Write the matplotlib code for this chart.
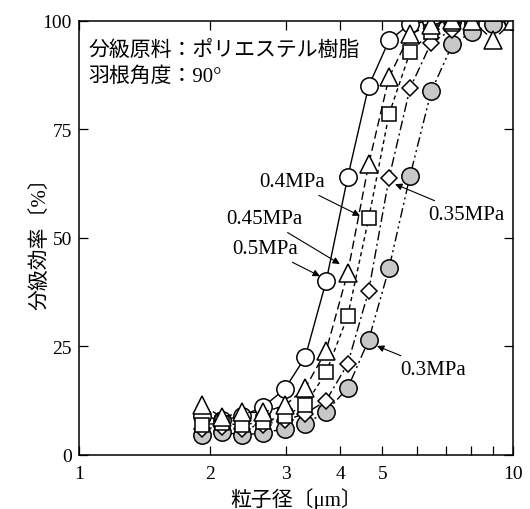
import numpy as np
import matplotlib
matplotlib.use('Agg')
import matplotlib.pyplot as plt

plt.rcParams['font.family'] = ['Liberation Serif', 'Noto Sans CJK JP']

# particle size grid [um]
size = [1.92, 2.14, 2.37, 2.65, 2.98, 3.32, 3.71, 4.16, 4.65, 5.18, 5.79, 6.48, 7.25, 8.05, 9.0, 10.0]

# classification efficiency [%] per pressure
eff_05 = [9, 8, 9, 11, 15.2, 22.5, 40, 64, 85, 95.5, 99.3, 100, 100, None, None, 100]
eff_045 = [11.4, 8.7, 9.8, 9.8, 11.4, 15.4, 24, 42, 67, 87, 97, 99, 100.3, 100, 95.6, 100]
eff_04 = [7.0, 7.3, 6.9, 7.6, 9.0, 11.5, 19, 32, 54.5, 78.5, 92.8, 97.4, 99.3, 100, None, None]
eff_035 = [6, 6.5, 6, 7, 8, 9.5, 12.5, 21, 37.8, 63.8, 84.5, 95, 98, 100, None, None]
eff_03 = [4.5, 5.4, 4.5, 5.1, 6.0, 7.1, 10, 15.4, 26.5, 43, 64.3, 83.8, 94.6, 97.5, 99.3, 100]


def pts(vals):
    xs = [s for s, v in zip(size, vals) if v is not None]
    ys = [v for v in vals if v is not None]
    return xs, ys


fig = plt.figure(figsize=(5.3, 5.1), dpi=100)
ax = fig.add_axes([0.149, 0.106, 0.819, 0.851])

mk = dict(markeredgecolor='black', markeredgewidth=1.1, color='black', lw=1.0)

x, y = pts(eff_03)
ax.plot(x, y, marker='o', ms=12.5, mfc='#c8c8c8', dashes=(7, 2.5, 1.5, 2.5, 1.5, 2.5), **mk)
x, y = pts(eff_035)
ax.plot(x, y, marker='D', ms=8.5, mfc='white', dashes=(7, 2.5, 1.5, 2.5), **mk)
x, y = pts(eff_05)
ax.plot(x, y, marker='o', ms=12.5, mfc='white', ls='-', **mk)
x, y = pts(eff_04)
ax.plot(x, y, marker='s', ms=9.5, mfc='white', dashes=(3, 2.5), **mk)
x, y = pts(eff_045)
ax.plot(x, y, marker='^', ms=13, mfc='white', dashes=(6, 3), **mk)

ax.set_xscale('log')
ax.set_xlim(1, 10)
ax.set_ylim(0, 100)
ax.set_xticks([1, 2, 3, 4, 5, 6, 7, 8, 9, 10])
ax.set_xticklabels(['1', '2', '3', '4', '5', '', '', '', '', '10'])
ax.minorticks_off()
ax.set_yticks([0, 25, 50, 75, 100])
ax.tick_params(direction='in', length=6.5, width=0.9, labelsize=14,
               top=True, right=True)
ax.tick_params(axis='x', pad=7)
ax.tick_params(axis='y', pad=5)
for sp in ax.spines.values():
    sp.set_linewidth(1.1)

ax.set_xlabel('粒子径〔μm〕', fontsize=15, labelpad=4)
ax.set_ylabel('分級効率〔%〕', fontsize=15)
ax.yaxis.set_label_coords(-0.066, 0.5)

ax.text(0.021, 0.931, '分級原料：ポリエステル樹脂', transform=ax.transAxes,
        fontsize=15, va='center', ha='left')
ax.text(0.021, 0.873, '羽根角度：90°', transform=ax.transAxes,
        fontsize=15, va='center', ha='left')

ap = dict(arrowstyle='-|>', color='black', lw=0.8, mutation_scale=10, shrinkA=2, shrinkB=0)
ax.annotate('0.4MPa', xy=(4.44, 55.1), xytext=(3.09, 62.9), fontsize=15,
            ha='center', va='center', arrowprops=ap)
ax.annotate('0.45MPa', xy=(3.99, 44.0), xytext=(2.68, 54.4), fontsize=15,
            ha='center', va='center', arrowprops=ap)
ax.annotate('0.5MPa', xy=(3.59, 41.2), xytext=(2.69, 47.5), fontsize=15,
            ha='center', va='center', arrowprops=ap)
ax.annotate('0.35MPa', xy=(5.35, 62.4), xytext=(7.81, 55.5), fontsize=15,
            ha='center', va='center', arrowprops=ap)
ax.annotate('0.3MPa', xy=(4.86, 25.1), xytext=(6.56, 19.8), fontsize=15,
            ha='center', va='center', arrowprops=ap)

fig.savefig('out.png', dpi=100)
